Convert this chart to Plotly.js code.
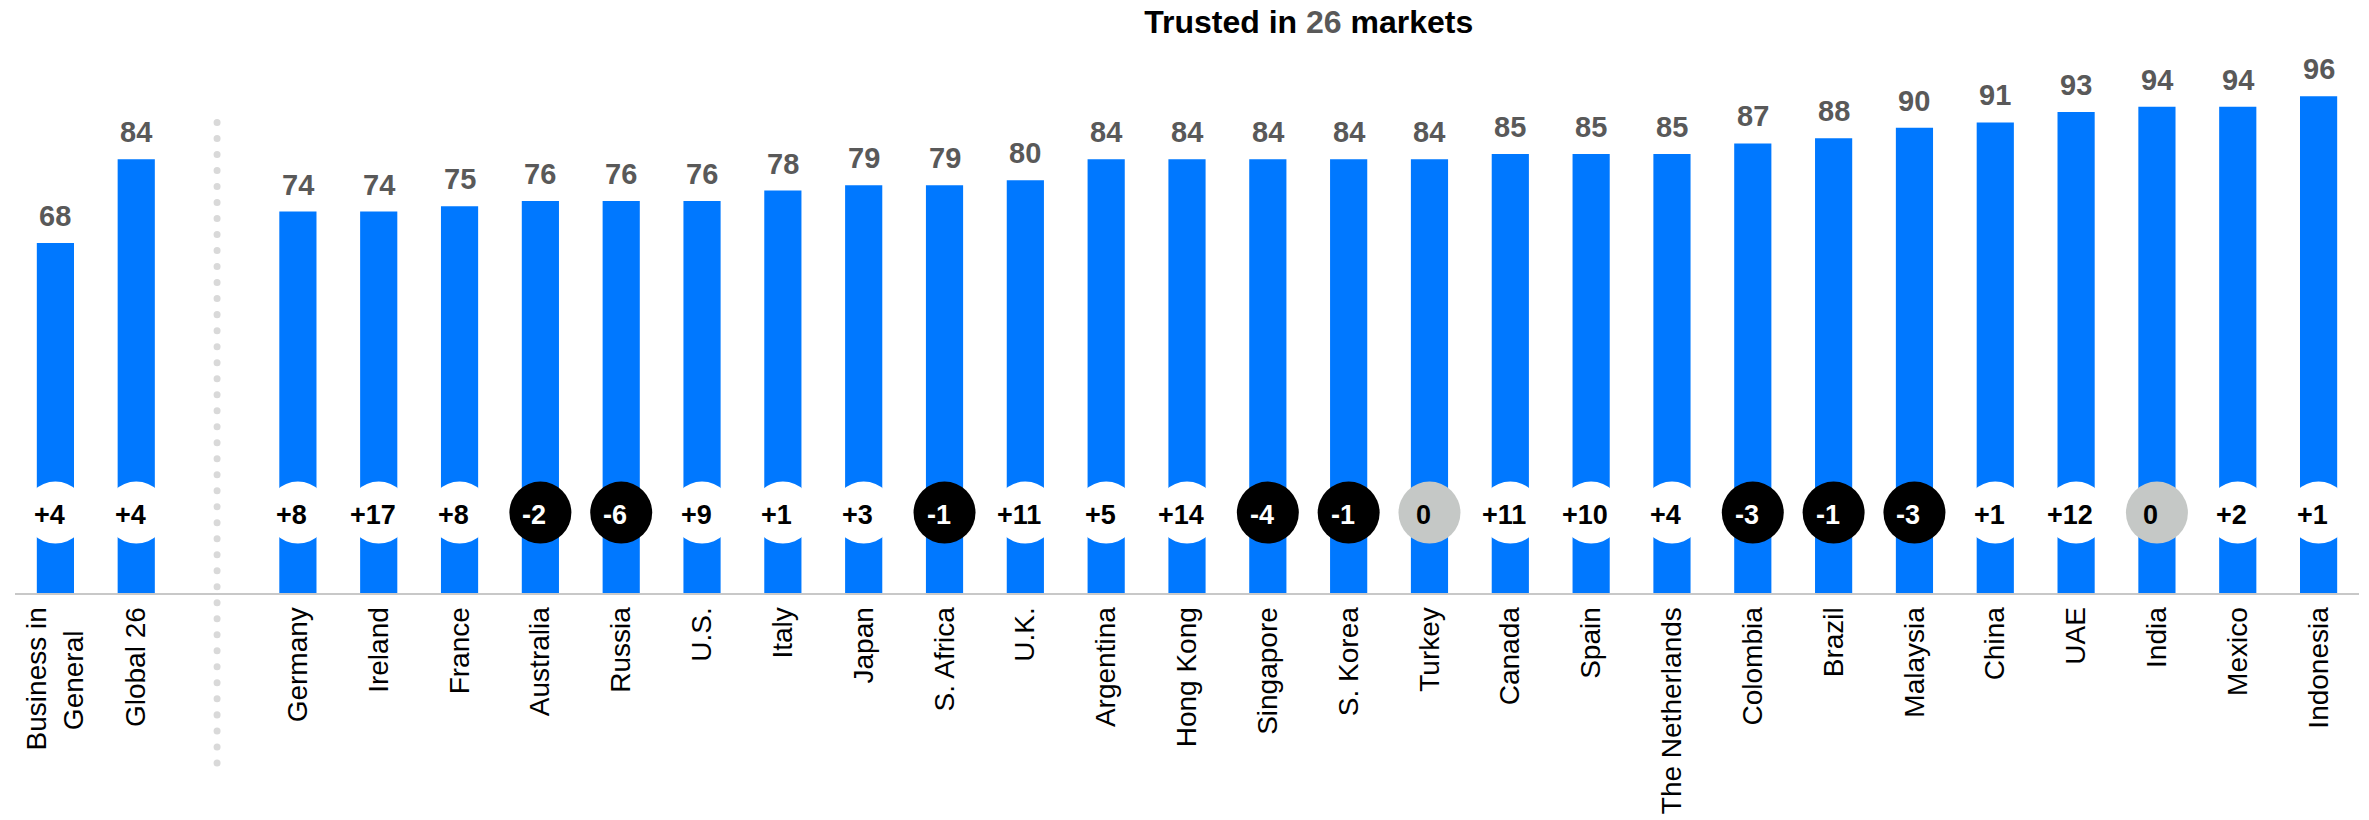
<!DOCTYPE html>
<html>
<head>
<meta charset="utf-8">
<script src="https://cdn.plot.ly/plotly-3.0.1.min.js"></script>
<style>
  html, body { margin: 0; padding: 0; background: #fff; }
  #chart { width: 2369px; height: 820px; }
</style>
</head>
<body>
<div id="chart"></div>
<script>
// ---- data ----
const summaryLabels  = ['Business in General', 'Global 26'];
const summaryValues  = [68, 84];
const summaryChanges = [4, 4];

const markets = ['Germany', 'Ireland', 'France', 'Australia', 'Russia', 'U.S.', 'Italy', 'Japan',
  'S. Africa', 'U.K.', 'Argentina', 'Hong Kong', 'Singapore', 'S. Korea', 'Turkey', 'Canada',
  'Spain', 'The Netherlands', 'Colombia', 'Brazil', 'Malaysia', 'China', 'UAE', 'India',
  'Mexico', 'Indonesia'];
const marketValues  = [74, 74, 75, 76, 76, 76, 78, 79, 79, 80, 84, 84, 84, 84, 84, 85,
  85, 85, 87, 88, 90, 91, 93, 94, 94, 96];
const marketChanges = [8, 17, 8, -2, -6, 9, 1, 3, -1, 11, 5, 14, -4, -1, 0, 11,
  10, 4, -3, -1, -3, 1, 12, 0, 2, 1];

const tickLabels = ['Business in<br>General\u00a0\u00a0\u00a0', 'Global 26'];

// ---- build ----
const SEP = ' ';
const cats    = [...summaryLabels, SEP, ...markets];
const values  = [...summaryValues, null, ...marketValues];
const changes = [...summaryChanges, null, ...marketChanges];
const ticktext = [...tickLabels, '', ...markets];

const BLUE = '#0078ff';
const GREY_TEXT = '#595959';
const CIRCLE_Y = 16.65;
const FONT = 'Liberation Sans, Arial, sans-serif';

const circleColor = changes.map(c => c === null ? 'rgba(0,0,0,0)' : (c > 0 ? '#ffffff' : (c < 0 ? '#000000' : '#c5c8c6')));
const circleText  = changes.map(c => c === null ? '' : (c > 0 ? '+' + c : String(c)));
const circleTextColor = changes.map(c => (c !== null && c < 0) ? '#ffffff' : '#000000');
const circleY = changes.map(c => c === null ? null : CIRCLE_Y);

const bars = {
  type: 'bar', x: cats, y: values,
  marker: { color: BLUE, line: { width: 0 } },
  hoverinfo: 'skip'
};

const circles = {
  type: 'scatter', mode: 'markers', x: cats, y: circleY,
  marker: { size: 62, color: circleColor, line: { width: 0 } },
  cliponaxis: false, hoverinfo: 'skip'
};

const valueLabels = cats.map((c, i) => values[i] === null ? null : ({
  x: c, y: values[i], xref: 'x', yref: 'y',
  text: '<b>' + values[i] + '</b>', showarrow: false,
  yanchor: 'bottom', yshift: 9,
  font: { family: FONT, size: 29, color: GREY_TEXT }
})).filter(a => a !== null);

const changeLabels = cats.map((c, i) => changes[i] === null ? null : ({
  x: c, y: CIRCLE_Y, xref: 'x', yref: 'y',
  text: '<b>' + circleText[i] + '</b>', showarrow: false,
  xanchor: 'center', yanchor: 'middle', xshift: -6, yshift: -2,
  font: { family: FONT, size: 27, color: circleTextColor[i] }
})).filter(a => a !== null);

const layout = {
  width: 2369, height: 820,
  margin: { l: 14.6, r: 9.8, t: 40, b: 226.7, pad: 0 },
  paper_bgcolor: '#ffffff', plot_bgcolor: '#ffffff',
  showlegend: false,
  bargap: 0.54,
  title: {
    text: 'Trusted in <span style="color:#595959">26</span> markets',
    font: { family: FONT, size: 32, color: '#000000', weight: 'bold' },
    x: 1308.7 / 2369, xref: 'container', xanchor: 'center',
    y: 1 - 22 / 820, yref: 'container', yanchor: 'middle'
  },
  xaxis: {
    type: 'category', categoryorder: 'array', categoryarray: cats,
    tickvals: cats, ticktext: ticktext,
    tickangle: -90, ticks: '', showgrid: false, zeroline: false,
    showline: true, linecolor: '#c8c8c8', linewidth: 2,
    tickfont: { family: FONT, size: 28, color: '#000000' },
    ticklabelstandoff: 1,
    range: [-0.5, cats.length - 0.5], fixedrange: true
  },
  yaxis: {
    range: [1.33, 106.7], visible: false, showgrid: false, zeroline: false, fixedrange: true
  },
  annotations: [...valueLabels, ...changeLabels],
  shapes: [{
    type: 'line', xref: 'x', yref: 'paper',
    x0: 2, x1: 2,
    y0: (593.3 - 763.3) / 553.3, y1: (593.3 - 106.7) / 553.3,
    line: { color: '#d9d9d9', width: 7, dash: '7px,9px' }
  }]
};

Plotly.newPlot('chart', [bars, circles], layout, { displayModeBar: false, staticPlot: true }).then(() => {
  document.querySelectorAll('.shapelayer path').forEach(p => {
    p.style.strokeLinecap = 'round';
    p.style.strokeDasharray = '0.01,16';
  });
});
</script>
</body>
</html>
